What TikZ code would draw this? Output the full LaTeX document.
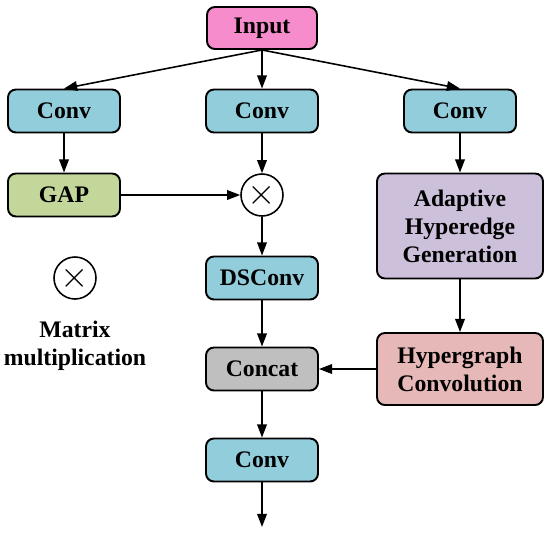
\documentclass[tikz,border=0pt]{standalone}
\usepackage{fontspec}
\setmainfont{Liberation Serif}
\usetikzlibrary{arrows.meta, positioning}
\definecolor{inpink}{RGB}{246,140,204}
\definecolor{convblue}{RGB}{146,205,220}
\definecolor{gapgreen}{RGB}{196,215,155}
\definecolor{ahglilac}{RGB}{204,192,218}
\definecolor{hgcrose}{RGB}{230,184,183}
\definecolor{catgray}{RGB}{191,191,191}

\begin{document}
\begin{tikzpicture}[x=0.02cm, y=-0.02cm,
  block/.style={draw, line width=1.1pt, rounded corners=4.5pt, inner sep=0pt,
    minimum width=2.24cm, minimum height=0.86cm, align=center,
    font=\bfseries\fontsize{13.5}{16}\selectfont},
  bigblock/.style={block, minimum width=3.32cm},
  mulnode/.style={draw, circle, line width=0.9pt, minimum size=0.84cm, inner sep=0pt,
    font=\fontsize{20}{20}\selectfont},
  flow/.style={line width=0.9pt, -{Triangle[length=7.5pt, width=5.5pt]}}]
  \useasboundingbox (0,0) rectangle (550,535);
  % blocks
  \node[block, fill=inpink, minimum width=2.2cm, minimum height=0.84cm] (in) at (262,28) {Input};
  \node[block, fill=convblue] (conva) at (64,111) {Conv};
  \node[block, fill=convblue] (convb) at (262,111) {Conv};
  \node[block, fill=convblue] (convc) at (460,111) {Conv};
  \node[block, fill=gapgreen] (gap) at (64,195) {GAP};
  \node[mulnode] (mul) at (262,195) {$\times$};
  \node[bigblock, fill=ahglilac, minimum height=2.1cm] (ahg) at (460,226) {Adaptive\\Hyperedge\\Generation};
  \node[block, fill=convblue] (dsconv) at (262,278) {DSConv};
  \node[block, fill=catgray] (concat) at (262,369) {Concat};
  \node[bigblock, fill=hgcrose, minimum height=1.44cm] (hgc) at (460,369) {Hypergraph\\Convolution};
  \node[block, fill=convblue] (convd) at (262,460) {Conv};
  \coordinate (out) at (262,527);
  % legend
  \node[mulnode] (legmul) at (75,278) {$\times$};
  \node[font=\bfseries\fontsize{13.5}{16}\selectfont, align=center] (legtxt) at (75,346) {Matrix\\multiplication};
  % arrows
  \draw[flow] (in.south) -- (conva.north);
  \draw[flow] (in.south) -- (convb.north);
  \draw[flow] (in.south) -- (convc.north);
  \draw[flow] (conva) -- (gap);
  \draw[flow] (convb) -- (mul);
  \draw[flow] (gap) -- (mul);
  \draw[flow] (convc) -- (ahg);
  \draw[flow] (mul) -- (dsconv);
  \draw[flow] (dsconv) -- (concat);
  \draw[flow] (ahg) -- (hgc);
  \draw[flow] (hgc) -- (concat);
  \draw[flow] (concat) -- (convd);
  \draw[flow] (convd) -- (out);
\end{tikzpicture}
\end{document}
